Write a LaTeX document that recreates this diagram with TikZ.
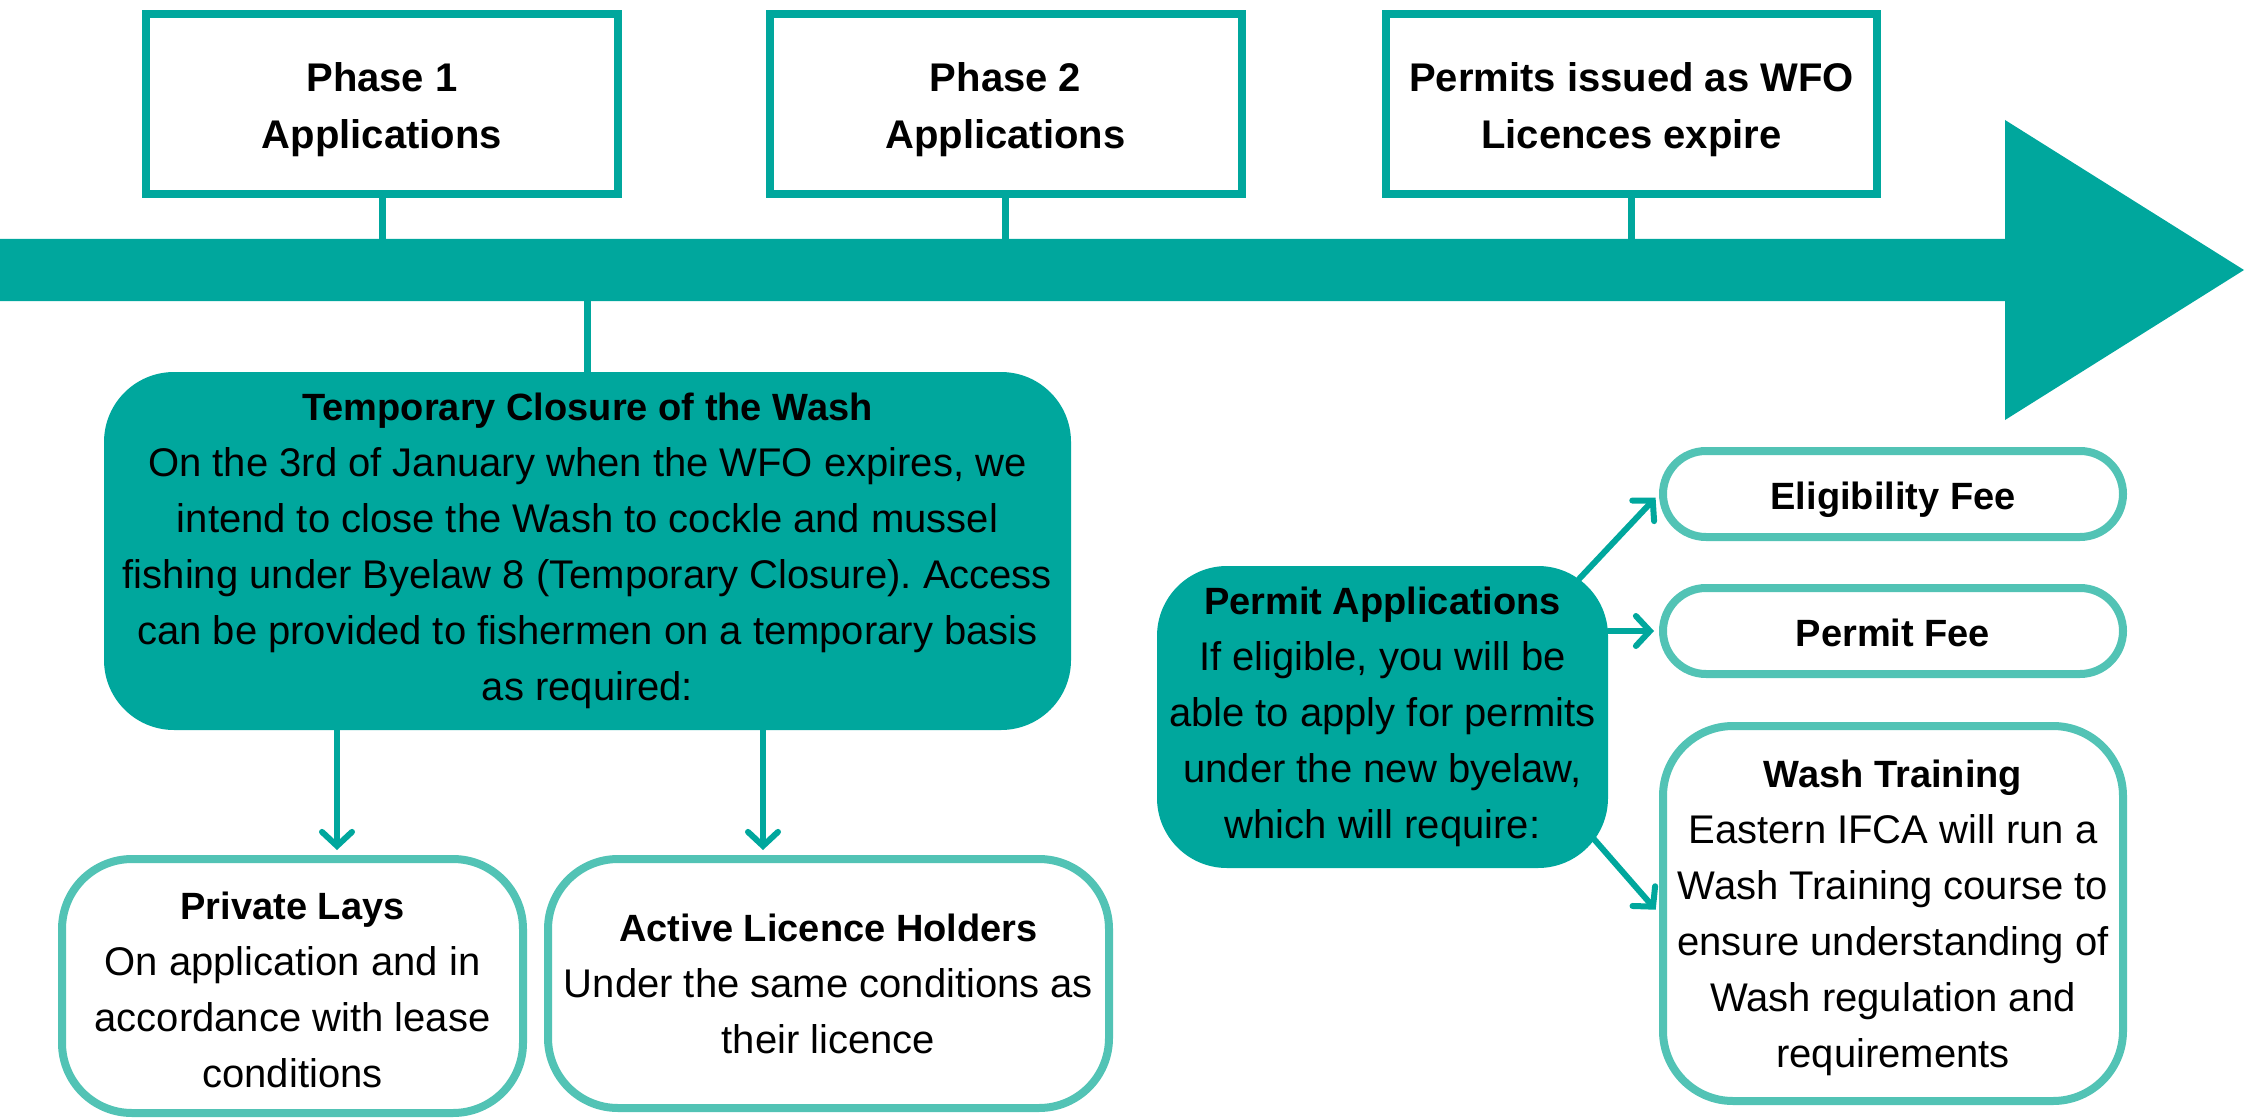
\documentclass[tikz,border=0pt]{standalone}
\usepackage{fontspec}
\setmainfont{Liberation Sans}
\usetikzlibrary{arrows.meta}
\frenchspacing
\definecolor{tealdark}{HTML}{00A79D}
\definecolor{teallight}{HTML}{52C3B5}
\newcommand{\boxtitle}[1]{{\bfseries\fontsize{38}{56}\selectfont #1}}
\newcommand{\lift}[1]{\rule{0pt}{#1}}
\tikzset{
  topbox/.style={draw=tealdark, line width=8pt, fill=white, minimum height=180pt, align=center, inner sep=0pt, font=\bfseries\fontsize{40}{57}\selectfont},
  darkbox/.style={fill=tealdark, rounded corners=70pt, align=center, inner sep=0pt, font=\fontsize{40}{56}\selectfont},
  lightbox/.style={draw=teallight, line width=8pt, fill=white, rounded corners=70pt, align=center, inner sep=0pt, font=\fontsize{40}{56}\selectfont},
  pillbox/.style={lightbox, rounded corners=43pt, minimum width=460pt, minimum height=86pt},
  conn/.style={draw=tealdark, line width=7pt},
  arr/.style={draw=tealdark, line width=6pt, line cap=round, -{Straight Barb[length=14pt,width=30pt,line cap=round]}, shorten >=5pt}
}
\begin{document}
\begin{tikzpicture}[x=1pt,y=-1pt]
\useasboundingbox (0,0) rectangle (2246,1118);
% timeline arrow
\fill[tealdark] (0,239) -- (2005,239) -- (2005,120) -- (2244,270) -- (2005,420) -- (2005,301) -- (0,301) -- cycle;
\coordinate (s1) at (382,240);
\coordinate (s2) at (1005.5,240);
\coordinate (s3) at (1631.5,240);
\coordinate (s4) at (587.5,300);
% top boxes
\node[topbox, minimum width=472pt] (p1) at (382,104) {\lift{41pt}Phase 1\\Applications};
\node[topbox, minimum width=472pt] (p2) at (1005.5,104) {\lift{41pt}Phase 2\\Applications};
\node[topbox, minimum width=491pt] (p3) at (1631.5,104) {\lift{41pt}Permits issued as WFO\\Licences expire};
\draw[conn] (p1.south) -- (s1);
\draw[conn] (p2.south) -- (s2);
\draw[conn] (p3.south) -- (s3);
% temporary closure
\node[darkbox, minimum width=967pt, minimum height=358pt] (temp) at (587.5,551)
 {\boxtitle{Temporary Closure of the Wash}\\On the 3rd of January when the WFO expires, we\\intend to close the Wash to cockle and mussel\\fishing under Byelaw 8 (Temporary Closure). Access\\can be provided to fishermen on a temporary basis\\as required:};
\draw[conn] (s4) -- (temp.north);
% lower boxes
\node[lightbox, minimum width=461pt, minimum height=254pt] (priv) at (292.5,986)
 {\lift{36pt}\boxtitle{Private Lays}\\On application and in\\accordance with lease\\conditions};
\node[lightbox, minimum width=561pt, minimum height=249pt] (act) at (828.5,983.5)
 {\boxtitle{Active Licence Holders}\\Under the same conditions as\\their licence};
\coordinate (a1) at (337,0);
\coordinate (a2) at (763,0);
\draw[arr] (temp.south -| a1) -- (priv.north -| a1);
\draw[arr] (temp.south -| a2) -- (act.north -| a2);
% permit applications
\node[darkbox, minimum width=451pt, minimum height=302pt] (perm) at (1382.5,717)
 {\boxtitle{Permit Applications}\\If eligible, you will be\\able to apply for permits\\under the new byelaw,\\which will require:};
\node[pillbox] (elig) at (1893,494) {\lift{40pt}\boxtitle{Eligibility Fee}};
\node[pillbox] (pfee) at (1893,631) {\lift{32pt}\boxtitle{Permit Fee}};
\node[lightbox, minimum width=460pt, minimum height=375pt] (wash) at (1893,913.5)
 {\lift{36pt}\boxtitle{Wash Training}\\Eastern IFCA will run a\\Wash Training course to\\ensure understanding of\\Wash regulation and\\requirements};
\draw[arr] ([xshift=-29pt,yshift=-13pt]perm.north east) -- (elig.west);
\draw[arr] (perm.east |- pfee.west) -- (pfee.west);
\draw[arr] ([xshift=-15pt,yshift=30pt]perm.south east) -- (wash.west);
\end{tikzpicture}
\end{document}
